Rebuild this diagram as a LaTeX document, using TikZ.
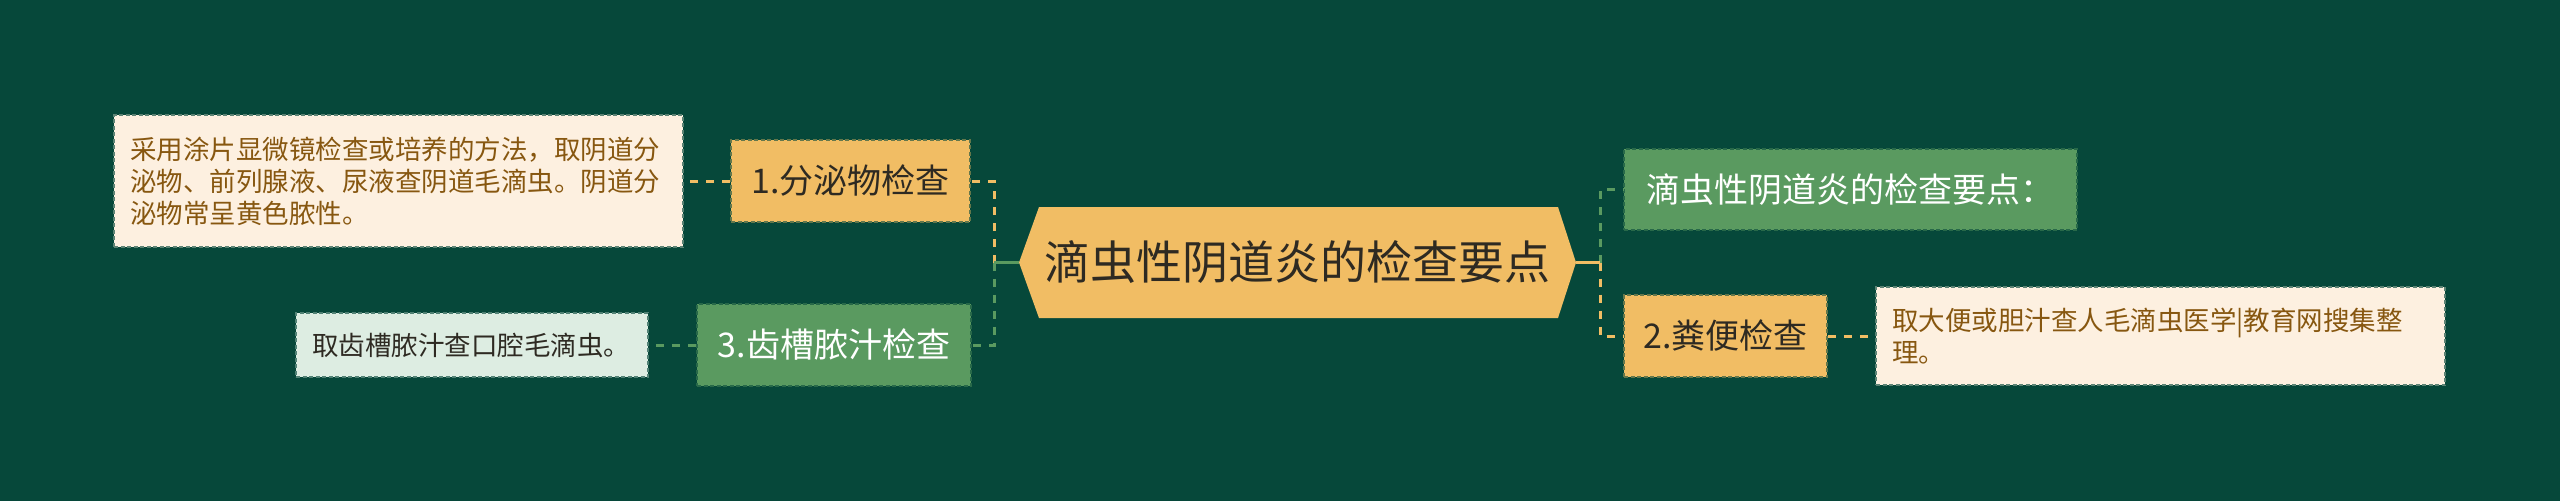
\documentclass[tikz,border=0pt]{standalone}
\usepackage{fontspec}
\setmainfont{Noto Sans CJK SC}
\definecolor{bg}{HTML}{06483A}
\definecolor{must}{HTML}{F1BD64}
\definecolor{grn}{HTML}{5A9A60}
\definecolor{cream}{HTML}{FDF0E0}
\definecolor{lgrn}{HTML}{DDEDE2}
\definecolor{brown}{HTML}{875710}
\definecolor{dtext}{HTML}{2E2A22}
\begin{document}
\begin{tikzpicture}[x=1pt,y=-1pt,
  box/.style={rectangle, inner sep=0pt, anchor=center, line width=1.6pt, dash pattern=on 4pt off 2.5pt},
  mnode/.style={box, fill=must, draw=must!40!bg, text=dtext, font=\fontsize{34}{40}\selectfont},
  gnode/.style={box, fill=grn, draw=grn!40!bg, text=white, font=\fontsize{34}{40}\selectfont},
  cbox/.style={box, fill=cream, draw=cream!35!bg, text=brown, align=left, inner xsep=16pt, font=\fontsize{26.5}{32}\selectfont},
  lbox/.style={box, fill=lgrn, draw=lgrn!35!bg, text=dtext, align=left, inner xsep=16pt, font=\fontsize{26.5}{32}\selectfont},
  conn/.style={line width=3pt, dash pattern=on 8pt off 8pt},
  link/.style={line width=3pt}]
\useasboundingbox (0,0) rectangle (2560,501);
\fill[bg] (0,0) rectangle (2560,501);
% central hexagon
\fill[must] (1019,262.5) -- (1039,207) -- (1558,207) -- (1576,262.5) -- (1558,318) -- (1039,318) -- cycle;
\node[inner sep=0pt, minimum width=557pt, minimum height=111pt, text=dtext, font=\fontsize{46}{52}\selectfont] (c) at (1297.5,262.5) {滴虫性阴道炎的检查要点};
% left branch
\node[mnode, minimum width=239pt, minimum height=82pt] (n1) at (850.5,181) {1.分泌物检查};
\node[cbox, text width=537pt, minimum height=132pt] (t1) at (398.5,181) {采用涂片显微镜检查或培养的方法，取阴道分\\泌物、前列腺液、尿液查阴道毛滴虫。阴道分\\泌物常呈黄色脓性。};
\node[gnode, minimum width=274pt, minimum height=82pt] (n3) at (834,345) {3.齿槽脓汁检查};
\node[lbox, text width=320pt, minimum height=64pt] (t3) at (472,345) {取齿槽脓汁查口腔毛滴虫。};
% right branch
\node[gnode, minimum width=453pt, minimum height=81pt] (r1) at (1850.5,189.5) {滴虫性阴道炎的检查要点：};
\node[mnode, minimum width=203pt, minimum height=82pt] (n2) at (1725.5,336) {2.粪便检查};
\node[cbox, text width=537pt, minimum height=98pt] (t2) at (2160.5,336) {取大便或胆汁查人毛滴虫医学|教育网搜集整\\理。};
% coordinates of spines
\coordinate (ls) at (994,262.5);
\coordinate (rs) at (1600,262.5);
% connectors
\draw[conn, must] (ls) |- (n1.east);
\draw[conn, grn] (ls) |- (n3.east);
\draw[link, grn] (c.west) -- (ls);
\draw[conn, grn] (rs) |- (r1.west);
\draw[conn, must] (rs) |- (n2.west);
\draw[link, must] (c.east) -- (rs);
\draw[conn, must] (n1.west) -- (t1.east);
\draw[conn, grn] (n3.west) -- (t3.east);
\draw[conn, must] (n2.east) -- (t2.west);
\end{tikzpicture}
\end{document}
